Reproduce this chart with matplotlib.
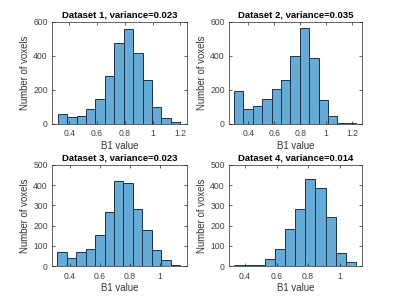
import matplotlib.pyplot as plt
import numpy as np

plt.rcParams["font.family"] = ["Liberation Sans", "DejaVu Sans"]

# Cuentas por bin
counts1 = [58, 41, 49, 90, 144, 283, 474, 557, 417, 257, 99, 35, 14]
counts2 = [195, 88, 107, 148, 203, 257, 398, 563, 386, 138, 47, 6, 4]
counts3 = [69, 41, 69, 83, 152, 267, 421, 411, 282, 177, 79, 30, 7]
counts4 = [5, 7, 7, 36, 84, 183, 281, 432, 385, 241, 64, 20]

# Bordes de los bins
edges1 = [0.316, 0.384, 0.452, 0.52, 0.588, 0.656, 0.724, 0.792, 0.86, 0.928, 0.996, 1.064, 1.132, 1.2]
edges2 = [0.289, 0.3615, 0.434, 0.5065, 0.579, 0.6515, 0.724, 0.7965, 0.869, 0.9415, 1.014, 1.0865, 1.159, 1.2315]
edges3 = [0.315, 0.378, 0.441, 0.504, 0.567, 0.63, 0.693, 0.756, 0.819, 0.882, 0.945, 1.008, 1.071, 1.134]
edges4 = [0.33, 0.3945, 0.459, 0.5235, 0.588, 0.6525, 0.717, 0.7815, 0.846, 0.9105, 0.975, 1.0395, 1.104]

titles = ["Dataset 1, variance=0.023", "Dataset 2, variance=0.035",
          "Dataset 3, variance=0.023", "Dataset 4, variance=0.014"]
xlims = [(0.275, 1.248), (0.25, 1.277), (0.279, 1.18), (0.298, 1.142)]
ymaxs = [600, 600, 500, 500]
yticks = [[0, 200, 400, 600], [0, 200, 400, 600],
          [0, 100, 200, 300, 400, 500], [0, 100, 200, 300, 400, 500]]
xticks = [[0.4, 0.6, 0.8, 1, 1.2], [0.4, 0.6, 0.8, 1, 1.2],
          [0.4, 0.6, 0.8, 1], [0.4, 0.6, 0.8, 1]]

fig = plt.figure(figsize=(4, 3), dpi=100)
rects = [[0.13, 0.587, 0.3375, 0.34], [0.5725, 0.587, 0.3325, 0.34],
         [0.13, 0.113, 0.3375, 0.337], [0.5725, 0.113, 0.3325, 0.337]]

data = [(counts1, edges1), (counts2, edges2), (counts3, edges3), (counts4, edges4)]
grey = "#262626"
for i, (c, e) in enumerate(data):
    ax = fig.add_axes(rects[i])
    e = np.array(e)
    ax.hist(e[:-1], bins=e, weights=c, color="#66aad7", edgecolor="#1d3447", linewidth=0.7)
    ax.set_xlim(xlims[i])
    ax.set_ylim(0, ymaxs[i])
    ax.set_xticks(xticks[i])
    ax.set_xticklabels([str(t) for t in xticks[i]])
    ax.set_yticks(yticks[i])
    ax.tick_params(direction="in", length=2, width=0.5, labelsize=6.2, colors=grey,
                   labelcolor="#404040", top=True, right=True)
    ax.tick_params(axis="x", pad=4)
    ax.tick_params(axis="y", pad=3)
    for s in ax.spines.values():
        s.set_linewidth(0.5)
        s.set_color(grey)
    ax.set_title(titles[i], fontsize=6.8, fontweight="bold", pad=3)
    ax.set_xlabel("B1 value", fontsize=6.9, color="#333333", labelpad=1.5)
    ax.set_ylabel("Number of voxels", fontsize=6.9, color="#333333", labelpad=2)

plt.savefig("out.png", dpi=100)
